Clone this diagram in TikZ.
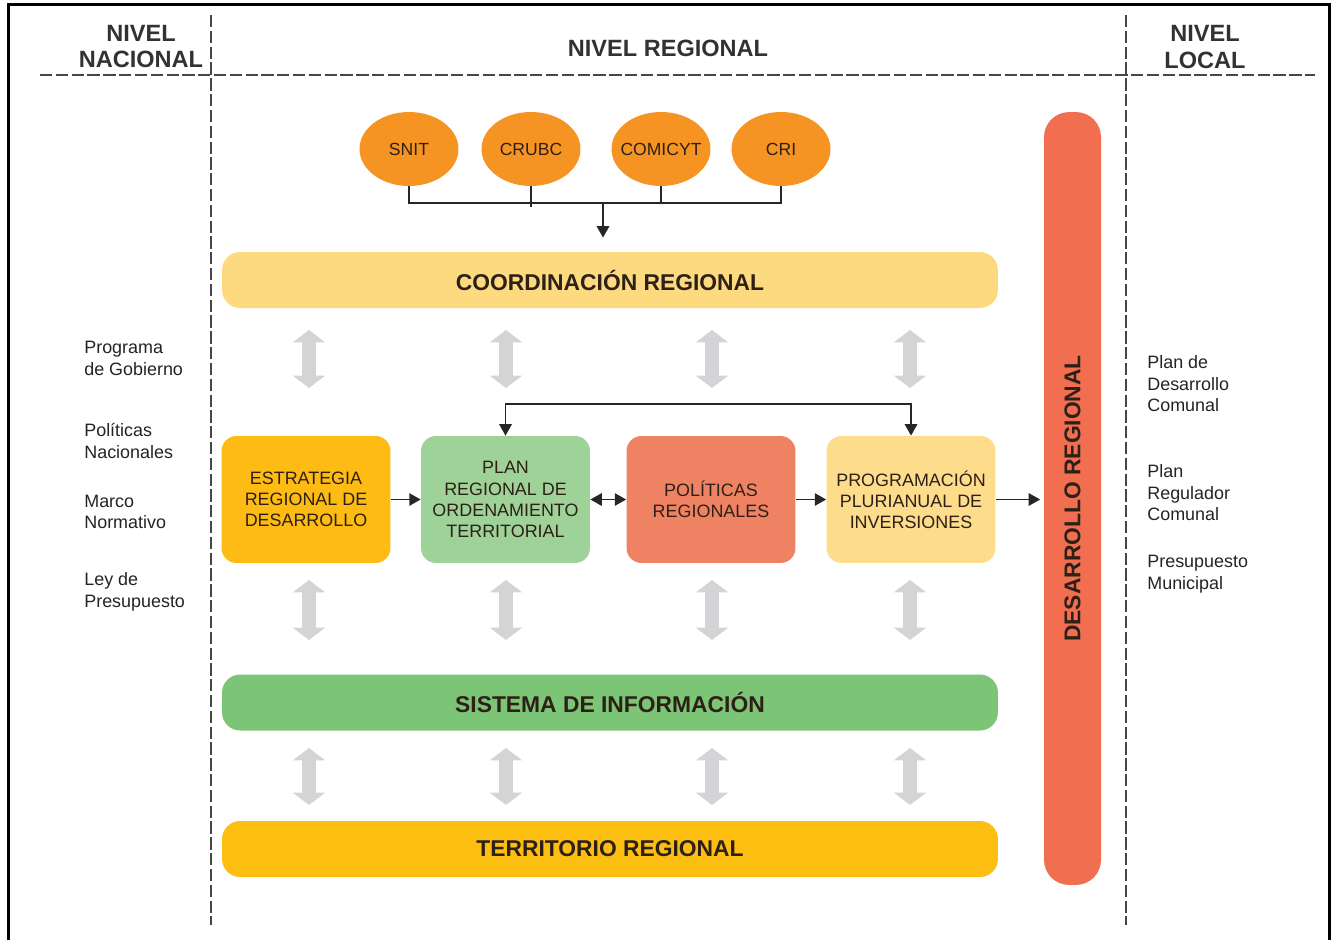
\documentclass[tikz,border=0pt]{standalone}
\usepackage{fontspec}
\setmainfont{Liberation Sans}
\usetikzlibrary{arrows.meta,shapes.geometric,calc}
\definecolor{orgfill}{RGB}{245,148,35}
\definecolor{coordfill}{RGB}{253,218,128}
\definecolor{estrfill}{RGB}{253,187,20}
\definecolor{planfill}{RGB}{158,210,152}
\definecolor{polfill}{RGB}{240,130,100}
\definecolor{progfill}{RGB}{253,220,140}
\definecolor{desfill}{RGB}{241,110,80}
\definecolor{sisfill}{RGB}{125,197,118}
\definecolor{terfill}{RGB}{253,190,18}
\definecolor{txtdark}{RGB}{45,32,22}
\definecolor{hdrgray}{RGB}{50,50,50}
\definecolor{sidetxt}{RGB}{35,35,35}
\definecolor{arrgray}{RGB}{212,212,214}
\definecolor{divgray}{RGB}{70,70,70}
\begin{document}
\begin{tikzpicture}[x=0.02cm,y=-0.02cm,
  hdrtext/.style={font=\fontsize{13.4}{15.3}\selectfont\bfseries, text=hdrgray, align=center, inner sep=0},
  barnode/.style={rounded corners=0.36cm, minimum width=15.52cm, minimum height=1.12cm, inner sep=0, font=\fontsize{13}{15}\selectfont\bfseries, text=txtdark},
  boxnode/.style={rounded corners=0.3cm, minimum width=3.38cm, minimum height=2.54cm, align=center, inner sep=0, font=\fontsize{10.2}{12}\selectfont, text=txtdark},
  orgnode/.style={ellipse, fill=orgfill, minimum width=1.98cm, minimum height=1.48cm, inner xsep=-0.2cm, inner ysep=0, font=\fontsize{10}{12}\selectfont, text=txtdark},
  sidetext/.style={align=left, inner sep=0, anchor=west, font=\fontsize{10.2}{12.2}\selectfont, text=sidetxt},
  linkline/.style={draw=black!85, line width=1.1pt},
  arrowline/.style={linkline, -{Triangle[width=7pt,length=6.5pt]}},
  dblarrow/.style={linkline, {Triangle[width=7pt,length=6.5pt]}-{Triangle[width=7pt,length=6.5pt]}},
  grayarrow/.style={draw=arrgray, line width=8pt, {Triangle[width=18pt,length=7pt]}-{Triangle[width=18pt,length=7pt]}},
  dividerline/.style={draw=divgray, line width=0.9pt, dash pattern=on 7pt off 2pt},
  frameline/.style={draw=black, line width=1.7pt}
]
\useasboundingbox (0,0) rectangle (1335,940);

% frame
\draw[frameline] (8.5,940) -- (8.5,4.5) -- (1329.5,4.5) -- (1329.5,940);

% dividers
\draw[dividerline] (211,15) -- (211,925);
\draw[dividerline] (1126,15) -- (1126,925);
\draw[dividerline] (40,75) -- (1315,75);

% headers
\node[hdrtext] (hnac) at (141,46.5) {NIVEL\\NACIONAL};
\node[hdrtext] (hreg) at (668,48) {NIVEL REGIONAL};
\node[hdrtext] (hloc) at (1205,47) {NIVEL\\LOCAL};

% organisations
\node[orgnode] (snit) at (409,149) {SNIT};
\node[orgnode] (crubc) at (531,149) {CRUBC};
\node[orgnode] (comi) at (661,149) {COMICYT};
\node[orgnode] (cri) at (781,149) {CRI};

% bars
\node[barnode, fill=coordfill] (coord) at (610,280) {COORDINACIÓN REGIONAL};
\node[barnode, fill=sisfill] (sis) at (610,702.5) {SISTEMA DE INFORMACIÓN};
\node[barnode, fill=terfill] (ter) at (610,849) {TERRITORIO REGIONAL};

% desarrollo regional
\node[rounded corners=0.5cm, minimum width=15.46cm, minimum height=1.14cm, inner sep=0,
  fill=desfill, rotate=90, font=\fontsize{13}{15}\selectfont\bfseries, text=txtdark]
  (des) at (1072.5,498.5) {DESARROLLO REGIONAL};

% boxes
\node[boxnode, fill=estrfill] (estr) at (306,499.5) {ESTRATEGIA\\REGIONAL DE\\DESARROLLO};
\node[boxnode, fill=planfill] (plan) at (505.5,499.5) {PLAN\\REGIONAL DE\\ORDENAMIENTO\\TERRITORIAL};
\node[boxnode, fill=polfill] (pol) at (711,499.5) {POLÍTICAS\\REGIONALES};
\node[boxnode, fill=progfill] (prog) at (911,499.5) {PROGRAMACIÓN\\PLURIANUAL DE\\INVERSIONES};

% org connectors
\coordinate (join) at (603,203);
\draw[linkline] (snit.south) -- (snit.south |- join) -- (cri.south |- join) -- (cri.south);
\draw[linkline] (crubc.south) -- ($(crubc.south |- join)+(0,4)$);
\draw[linkline] (comi.south) -- (comi.south |- join);
\draw[arrowline, shorten >=0.28cm] (join) -- (join |- coord.north);

% box connectors
\draw[arrowline] (estr.east) -- (plan.west);
\draw[dblarrow] (plan.east) -- (pol.west);
\draw[arrowline] (pol.east) -- (prog.west);
\draw[arrowline, shorten >=2pt] (prog.east) -- (prog.east -| des.north);
\draw[dblarrow] (plan.north) -- ++(0,-32) -| (prog.north);

% gray double arrows
\foreach \x in {309,506,712,910} {
  \draw[grayarrow] (\x,330) -- (\x,388);
  \draw[grayarrow] (\x,580) -- (\x,640);
  \draw[grayarrow] (\x,748) -- (\x,805);
}

% side texts
\node[sidetext] (l1) at (84,358.5) {Programa\\de Gobierno};
\node[sidetext] (l2) at (84,441) {Políticas\\Nacionales};
\node[sidetext] (l3) at (84,512) {Marco\\Normativo};
\node[sidetext] (l4) at (84,592) {Ley de\\Presupuesto};
\node[sidetext] (r1) at (1147,384) {Plan de\\Desarrollo\\Comunal};
\node[sidetext] (r2) at (1147,493) {Plan\\Regulador\\Comunal};
\node[sidetext] (r3) at (1147,574) {Presupuesto\\Municipal};
\end{tikzpicture}
\end{document}
